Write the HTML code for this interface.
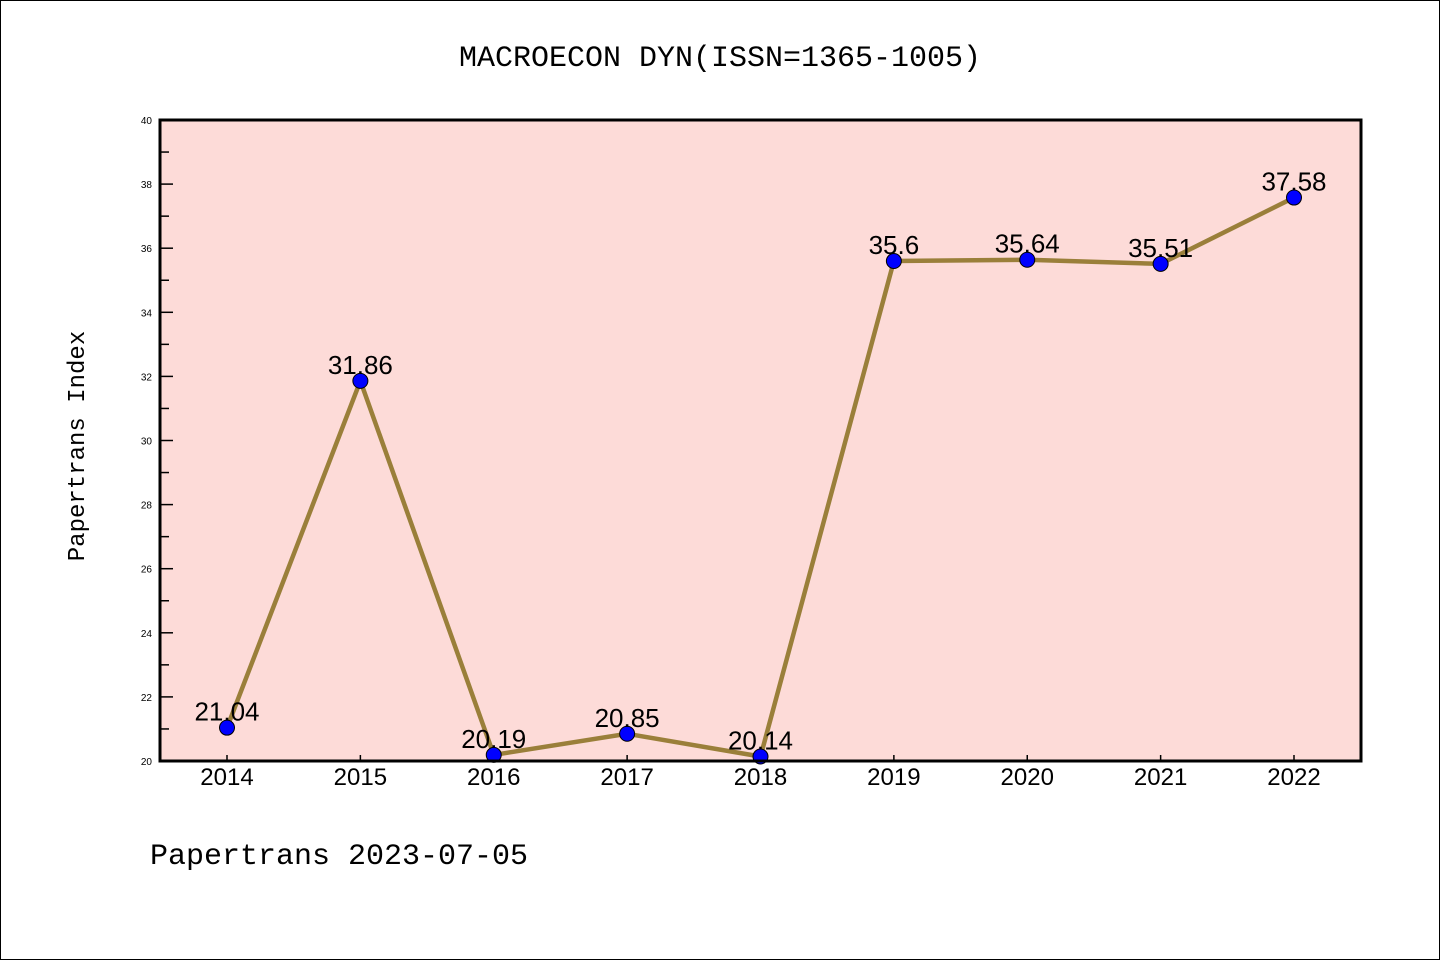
<!DOCTYPE html>
<html><head><meta charset="utf-8"><style>
body{margin:0;background:#fff;}
svg{display:block;font-family:"Liberation Sans","DejaVu Sans",sans-serif;}
</style></head><body>
<svg width="1440" height="960" viewBox="0 0 1440 960">
<rect x="0.5" y="0.5" width="1439" height="959" fill="#fff" stroke="#000"/>
<text x="720" y="66" text-anchor="middle" font-size="30" font-family="Liberation Mono, monospace">MACROECON DYN(ISSN=1365-1005)</text>
<rect x="160" y="120" width="1201" height="641" fill="#fddbd8"/>
<g id="axes"></g>
<g id="marks"></g>
<rect x="160" y="120" width="1201" height="641" fill="none" stroke="#000" stroke-width="3"/>
<text transform="translate(84,446) rotate(-90)" text-anchor="middle" font-size="24" font-family="Liberation Mono, monospace">Papertrans Index</text>
<text x="150" y="864" font-size="30" font-family="Liberation Mono, monospace">Papertrans 2023-07-05</text>
</svg>
<script>
const years=["2014","2015","2016","2017","2018","2019","2020","2021","2022"];
const values=[21.04,31.86,20.19,20.85,20.14,35.6,35.64,35.51,37.58];
const valueLabels=["21.04","31.86","20.19","20.85","20.14","35.6","35.64","35.51","37.58"];
const yTicks=[20,22,24,26,28,30,32,34,36,38,40];
const NS="http://www.w3.org/2000/svg";
const yMin=20,yMax=40,plotTop=120,plotBot=761;
function ys(v){return plotBot-(v-yMin)/(yMax-yMin)*(plotBot-plotTop);}
function xs(i){return 227+i*(1294-227)/(years.length-1);}
function mk(t,a,p){const e=document.createElementNS(NS,t);for(const k in a)e.setAttribute(k,a[k]);p.appendChild(e);return e;}
const ax=document.getElementById('axes'),mg=document.getElementById('marks');
yTicks.forEach((v,i)=>{
 const l=mk('line',{x1:160,x2:173,y1:ys(v),y2:ys(v),stroke:'#000','stroke-width':1.5},ax);
 
 
 const t=mk('text',{x:152,y:ys(v)+4,'text-anchor':'end','font-size':10},ax);t.textContent=v;
 
 
 if(i<yTicks.length-1){const m=mk('line',{x1:160,x2:169,y1:ys(v+1),y2:ys(v+1),stroke:'#000','stroke-width':1.5},ax);
 
 }
});
years.forEach((y,i)=>{
 const l=mk('line',{x1:xs(i),x2:xs(i),y1:761,y2:755,stroke:'#000','stroke-width':1.5},ax);
 
 
 const t=mk('text',{x:xs(i),y:785,'text-anchor':'middle','font-size':24},ax);t.textContent=y;
 
 
});
const pl=mk('polyline',{points:values.map((v,i)=>xs(i)+','+ys(v)).join(' '),fill:'none',stroke:'#9a7f3a','stroke-width':4.5},mg);


values.forEach((v,i)=>{
 const c=mk('circle',{cx:xs(i),cy:ys(v),r:7.5,fill:'#0000ff',stroke:'#000','stroke-width':1},mg);
 
 
});
values.forEach((v,i)=>{
 const t=mk('text',{x:xs(i),y:ys(v)-7,'text-anchor':'middle','font-size':26},mg);t.textContent=valueLabels[i];
 
 
});
</script>
</body></html>
